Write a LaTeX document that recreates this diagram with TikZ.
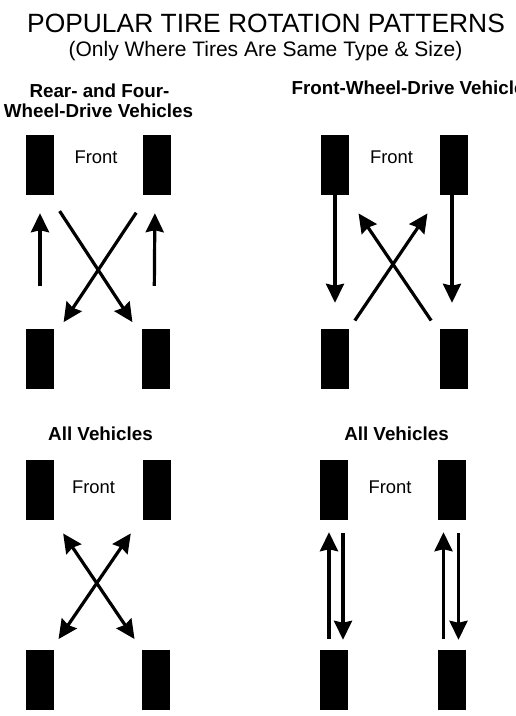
\documentclass[tikz,border=0pt]{standalone}
\usepackage{fontspec}
\setmainfont{Liberation Sans}
\usetikzlibrary{arrows.meta}

\begin{document}
\begin{tikzpicture}[x=1pt,y=-1pt,
  >={Stealth[length=19pt,width=18pt,inset=2pt]},
  tire/.style={fill=black,minimum width=28pt,minimum height=60pt,inner sep=0pt},
  rot/.style={line width=3.2pt,->},
  rotboth/.style={line width=3.2pt,<->},
  front/.style={anchor=base,font=\fontsize{18.4}{20}\selectfont},
  heading/.style={anchor=base,font=\fontsize{18.8}{20}\selectfont\bfseries}]
\path[use as bounding box,fill=white] (0,0) rectangle (516,716);

% titles
\node[anchor=base,font=\fontsize{26.4}{30}\selectfont] (title) at (266,32) {POPULAR TIRE ROTATION PATTERNS};
\node[anchor=base,font=\fontsize{21}{24}\selectfont] (subtitle) at (265.5,56) {(Only Where Tires Are Same Type \& Size)};

% rear and four wheel drive
\node[heading] (a-head1) at (99.5,97) {Rear- and Four-};
\node[heading] (a-head2) at (98.5,117) {Wheel-Drive Vehicles};
\node[tire] (a-fl) at (40,165) {};
\node[tire] (a-fr) at (157,165) {};
\node[tire] (a-rl) at (40,359) {};
\node[tire] (a-rr) at (156,359) {};
\node[front] (a-front) at (96,163) {Front};
\draw[rot,shorten <=43pt,shorten >=18pt] (a-rl.north) -- (a-fl.south);
\draw[rot,shorten <=43pt,shorten >=18pt] ([xshift=-2pt]a-rr.north) -- ([xshift=-2pt]a-fr.south);
\draw[rot,shorten <=19pt,shorten >=8pt] ([xshift=-5pt]a-fl.south east) -- ([xshift=-5pt]a-rr.north west);
\draw[rot,shorten <=21pt,shorten >=8pt] ([xshift=5pt]a-fr.south west) -- ([xshift=5pt]a-rl.north east);

% front wheel drive
\node[heading,anchor=base west] (b-head) at (288,94) {Front-Wheel-Drive Vehicle};
\node[tire] (b-fl) at (335,165) {};
\node[tire] (b-fr) at (454,165) {};
\node[tire] (b-rl) at (335,359) {};
\node[tire] (b-rr) at (454,359) {};
\node[front] (b-front) at (391.5,163) {Front};
\draw[rot,shorten >=26pt] (b-fl.south) -- (b-rl.north);
\draw[rot,shorten >=26pt] ([xshift=-2pt]b-fr.south) -- ([xshift=-2pt]b-rr.north);
\draw[rot,shorten <=10pt,shorten >=22pt] (b-rl.north east) -- (b-fr.south west);
\draw[rot,shorten <=10pt,shorten >=22pt] ([xshift=-3pt]b-rr.north west) -- ([xshift=-3pt]b-fl.south east);

% all vehicles, cross
\node[heading] (c-head) at (100.5,440) {All Vehicles};
\node[tire] (c-fl) at (40,490) {};
\node[tire] (c-fr) at (157,490) {};
\node[tire] (c-rl) at (40,680) {};
\node[tire] (c-rr) at (156,680) {};
\node[front] (c-front) at (93.5,493) {Front};
\draw[rotboth,shorten <=16pt,shorten >=13pt] (c-fl.south east) -- (c-rr.north west);
\draw[rotboth,shorten <=16pt,shorten >=13pt] ([xshift=-3pt]c-fr.south west) -- ([xshift=-3pt]c-rl.north east);

% all vehicles, same side
\node[heading] (d-head) at (396.5,440) {All Vehicles};
\node[tire] (d-fl) at (334,490) {};
\node[tire] (d-fr) at (451.5,490) {};
\node[tire] (d-rl) at (334,680) {};
\node[tire] (d-rr) at (451.5,680) {};
\node[front] (d-front) at (390,493) {Front};
\draw[rot,shorten <=11pt,shorten >=12pt] ([xshift=-5pt]d-rl.north) -- ([xshift=-5pt]d-fl.south);
\draw[rot,shorten <=13pt,shorten >=10pt] ([xshift=9pt]d-fl.south) -- ([xshift=9pt]d-rl.north);
\draw[rot,shorten <=11pt,shorten >=12pt] ([xshift=-8pt]d-rr.north) -- ([xshift=-8pt]d-fr.south);
\draw[rot,shorten <=13pt,shorten >=10pt] ([xshift=7pt]d-fr.south) -- ([xshift=7pt]d-rr.north);
\end{tikzpicture}
\end{document}
